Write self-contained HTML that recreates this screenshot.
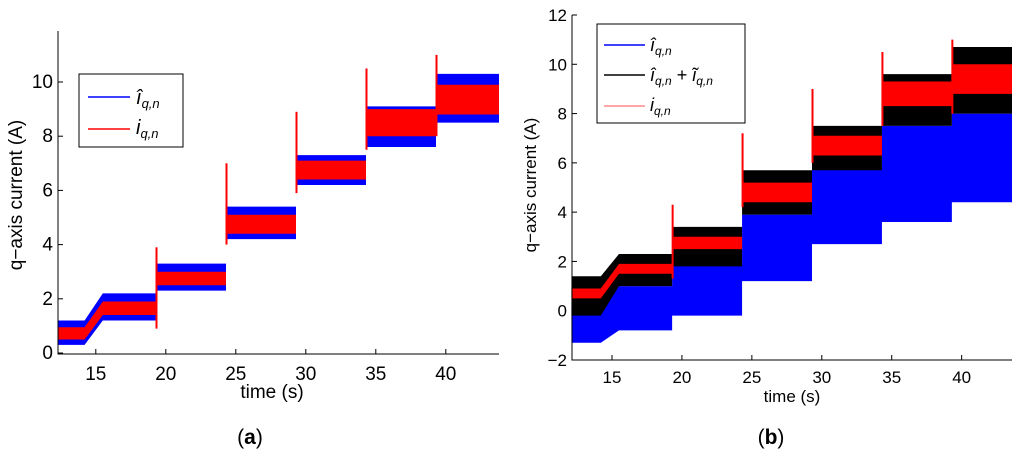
<!DOCTYPE html>
<html><head><meta charset="utf-8"><style>
body{margin:0;background:#fff;}
svg text{font-family:"Liberation Sans",sans-serif;}
</style></head><body>
<svg id="s" width="1024" height="453">
<g id="A"></g>
<g id="B"></g>
<text x="22" y="195" font-size="19" text-anchor="middle" transform="rotate(-90 22 195)">q−axis current (A)</text>
<text x="536" y="185" font-size="17" text-anchor="middle" transform="rotate(-90 536 185)">q−axis current (A)</text>
<text x="272" y="398" font-size="19" text-anchor="middle">time (s)</text>
<text x="792" y="402" font-size="17" text-anchor="middle">time (s)</text>
<text x="250" y="444" font-size="21" text-anchor="middle" font-family="Liberation Serif">(<tspan font-weight="bold">a</tspan>)</text>
<text x="771" y="444" font-size="21" text-anchor="middle" font-family="Liberation Serif">(<tspan font-weight="bold">b</tspan>)</text>
</svg>
<script>
// Chart A data
const aTimes=[12.3,14.2,15.5,19.3,19.3,24.3,24.3,29.3,29.3,34.3,34.3,39.3,39.3,43.8];
const aBlueLo=[0.3,0.3,1.2,1.2,2.3,2.3,4.2,4.2,6.2,6.2,7.6,7.6,8.5,8.5];
const aBlueHi=[1.2,1.2,2.2,2.2,3.3,3.3,5.4,5.4,7.3,7.3,9.1,9.1,10.3,10.3];
const aRedLo=[0.5,0.5,1.4,1.4,2.5,2.5,4.4,4.4,6.4,6.4,8.0,8.0,8.8,8.8];
const aRedHi=[0.95,0.95,1.9,1.9,3.0,3.0,5.1,5.1,7.1,7.1,9.0,9.0,9.9,9.9];
const aSpikeT=[19.3,24.3,29.3,34.3,39.3];
const aSpikeV=[3.9,7.0,8.9,10.5,11.0];
const aYTicks=[0,2,4,6,8,10];
const aXTicks=[15,20,25,30,35,40];
// Chart B data
const bTimes=[12.1,14.2,15.5,19.3,19.3,24.3,24.3,29.3,29.3,34.3,34.3,39.3,39.3,43.6];
const bBlueLo=[-1.3,-1.3,-0.8,-0.8,-0.2,-0.2,1.2,1.2,2.7,2.7,3.6,3.6,4.4,4.4];
const bBlueHi=[0.2,0.2,1.0,1.0,1.9,1.9,3.9,3.9,5.8,5.8,7.5,7.5,8.0,8.0];
const bBlackLo=[-0.2,-0.2,1.0,1.0,1.8,1.8,3.9,3.9,5.7,5.7,7.5,7.5,8.0,8.0];
const bBlackHi=[1.4,1.4,2.3,2.3,3.4,3.4,5.7,5.7,7.5,7.5,9.6,9.6,10.7,10.7];
const bRedLo=[0.5,0.5,1.5,1.5,2.5,2.5,4.4,4.4,6.3,6.3,8.3,8.3,8.8,8.8];
const bRedHi=[0.9,0.9,1.9,1.9,3.0,3.0,5.2,5.2,7.1,7.1,9.3,9.3,10.0,10.0];
const bSpikeT=[19.3,24.3,29.3,34.3,39.3];
const bSpikeV=[4.3,7.2,9.0,10.5,11.0];
const bYTicks=[-2,0,2,4,6,8,10,12];
const bXTicks=[15,20,25,30,35,40];

const NS='http://www.w3.org/2000/svg';
function mk(p,tag,at){const e=document.createElementNS(NS,tag);for(const k in at)e.setAttribute(k,at[k]);p.appendChild(e);return e;}
function chart(g,cfg){
  const sx=t=>cfg.x0+(t-cfg.t0)*(cfg.x1-cfg.x0)/(cfg.t1-cfg.t0);
  const sy=v=>cfg.y0+(v-cfg.v0)*(cfg.y1-cfg.y0)/(cfg.v1-cfg.v0);
  cfg.bands.forEach(b=>{
    let pts=cfg.times.map((t,i)=>sx(t)+','+sy(b.hi[i]));
    for(let i=cfg.times.length-1;i>=0;i--)pts.push(sx(cfg.times[i])+','+sy(b.lo[i]));
    const p=mk(g,'polygon',{points:pts.join(' '),fill:b.c});
    
    
  });
  cfg.spT.forEach((t,i)=>{
    const l=mk(g,'line',{x1:sx(t)+0.5,x2:sx(t)+0.5,y1:sy(cfg.spV[i]),y2:sy(cfg.spV[i]-3),stroke:'#f00','stroke-width':2});
    
    
  });
  const ax=mk(g,'path',{d:`M${cfg.x0},${cfg.top}V${cfg.axb}H${cfg.x1}`,fill:'none',stroke:'#000','stroke-width':1});
  
  
  cfg.yt.forEach(v=>{
    mk(g,'line',{x1:cfg.x0,x2:cfg.x0+5,y1:sy(v),y2:sy(v),stroke:'#000'});
    const t=mk(g,'text',{x:cfg.x0-5,y:sy(v)+6,'font-size':cfg.fs,'text-anchor':'end'});
    t.textContent=v<0?'−'+(-v):v;
    
    
  });
  cfg.xt.forEach(v=>{
    mk(g,'line',{x1:sx(v),x2:sx(v),y1:cfg.axb,y2:cfg.axb-5,stroke:'#000'});
    const t=mk(g,'text',{x:sx(v),y:cfg.axb+cfg.xo,'font-size':cfg.fs,'text-anchor':'middle'});
    t.textContent=v;
    
    
  });
}
chart(document.getElementById('A'),{x0:58,x1:499,t0:12.3,t1:43.8,y0:353,y1:82,v0:0,v1:10,top:31,axb:354,xo:26,fs:19,
  times:aTimes,bands:[{lo:aBlueLo,hi:aBlueHi,c:'#0000ff',name:'series-ihat'},{lo:aRedLo,hi:aRedHi,c:'#ff0000',name:'series-i'}],
  spT:aSpikeT,spV:aSpikeV,yt:aYTicks,xt:aXTicks});
chart(document.getElementById('B'),{x0:572,x1:1012,t0:12.14,t1:43.6,y0:360,y1:15,v0:-2,v1:12,top:15,axb:360,xo:23,fs:17,
  times:bTimes,bands:[{lo:bBlueLo,hi:bBlueHi,c:'#0000ff',name:'series-ihat'},{lo:bBlackLo,hi:bBlackHi,c:'#000000',name:'series-ihat-plus-itilde'},{lo:bRedLo,hi:bRedHi,c:'#ff0000',name:'series-i'}],
  spT:bSpikeT,spV:bSpikeV,yt:bYTicks,xt:bXTicks});
</script>
<svg style="position:absolute;left:0;top:0" width="1024" height="453">
<g font-family="Liberation Serif" font-style="italic">
<rect x="79" y="74" width="104" height="73" fill="#fff" stroke="#000"/>
<line x1="88" y1="97" x2="130" y2="97" stroke="#00f" stroke-width="1.5"/>
<text x="136" y="104" font-size="20">î<tspan font-size="13" dy="4">q,n</tspan></text>
<line x1="88" y1="129" x2="130" y2="129" stroke="#f00" stroke-width="1.5"/>
<text x="136" y="134" font-size="20">i<tspan font-size="13" dy="4">q,n</tspan></text>
</g>
<g font-family="Liberation Serif" font-style="italic">
<rect x="597" y="24" width="148" height="99" fill="#fff" stroke="#000"/>
<line x1="604" y1="45" x2="645" y2="45" stroke="#00f" stroke-width="1.5"/>
<text x="650" y="51" font-size="18">î<tspan font-size="12" dy="4">q,n</tspan></text>
<line x1="604" y1="75" x2="645" y2="75" stroke="#000" stroke-width="1.5"/>
<text x="650" y="81" font-size="18">î<tspan font-size="12" dy="4">q,n</tspan><tspan dy="-4" font-style="normal"> + </tspan>ĩ<tspan font-size="12" dy="4">q,n</tspan></text>
<line x1="604" y1="106" x2="645" y2="106" stroke="#f88" stroke-width="1.5"/>
<text x="650" y="111" font-size="18">i<tspan font-size="12" dy="4">q,n</tspan></text>
</g>
</svg>
</body></html>
